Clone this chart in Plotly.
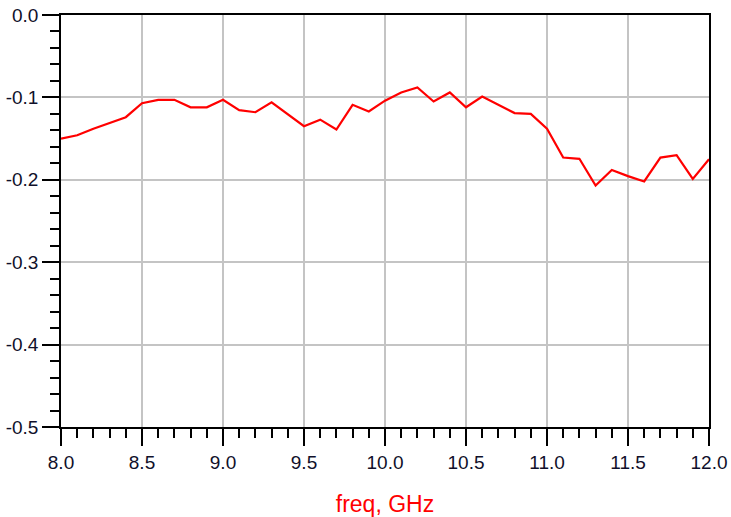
import plotly.graph_objects as go

freq = [8.0, 8.1, 8.2, 8.3, 8.4, 8.5, 8.6, 8.7, 8.8, 8.9,
        9.0, 9.1, 9.2, 9.3, 9.4, 9.5, 9.6, 9.7, 9.8, 9.9,
        10.0, 10.1, 10.2, 10.3, 10.4, 10.5, 10.6, 10.7, 10.8, 10.9,
        11.0, 11.1, 11.2, 11.3, 11.4, 11.5, 11.6, 11.7, 11.8, 11.9, 12.0]
s21 = [-0.150, -0.146, -0.138, -0.131, -0.124, -0.107, -0.103, -0.103, -0.112, -0.112,
       -0.103, -0.1155, -0.118, -0.106, -0.121, -0.135, -0.127, -0.139, -0.109, -0.117,
       -0.104, -0.094, -0.088, -0.105, -0.094, -0.112, -0.099, -0.109, -0.119, -0.120,
       -0.138, -0.173, -0.1745, -0.207, -0.188, -0.1955, -0.202, -0.173, -0.170, -0.199, -0.175]

x_ticks = [8.0, 8.5, 9.0, 9.5, 10.0, 10.5, 11.0, 11.5, 12.0]
y_ticks = [0.0, -0.1, -0.2, -0.3, -0.4, -0.5]

fig = go.Figure()
fig.add_trace(go.Scatter(x=freq, y=s21, mode="lines",
                         line=dict(color="#ff0000", width=2.2)))

font = "Liberation Sans, Arial, sans-serif"
tick_color = "#10102a"
fig.update_layout(
    width=731, height=517,
    margin=dict(l=61, r=22, t=15, b=90),
    paper_bgcolor="white", plot_bgcolor="white",
    showlegend=False,
    font=dict(family=font, size=19, color=tick_color),
    xaxis=dict(
        range=[8.0, 12.0],
        tickvals=x_ticks,
        ticktext=[f"{v:.1f}" for v in x_ticks],
        ticks="outside", ticklen=17, tickwidth=1.5, tickcolor="black",
        showline=True, linecolor="black", linewidth=1.5, mirror=True,
        showgrid=True, gridcolor="#c4c4c4", gridwidth=1.5,
        zeroline=False, automargin=False, ticklabeloverflow="allow",
        minor=dict(dtick=0.1, ticks="outside", ticklen=9, tickwidth=1.5,
                   tickcolor="black", showgrid=False),
        title=dict(text="freq, GHz", font=dict(color="#ff0000", size=23, family=font),
                   standoff=24),
        tickfont=dict(size=19, color=tick_color),
    ),
    yaxis=dict(
        range=[-0.5, 0.0],
        tickvals=y_ticks,
        ticktext=[f"{v:.1f}" for v in y_ticks],
        ticks="outside", ticklen=17, tickwidth=1.5, tickcolor="black",
        showline=True, linecolor="black", linewidth=1.5, mirror=True,
        showgrid=True, gridcolor="#c4c4c4", gridwidth=1.5,
        zeroline=False, automargin=False, ticklabeloverflow="allow",
        minor=dict(dtick=0.02, ticks="outside", ticklen=9, tickwidth=1.5,
                   tickcolor="black", showgrid=False),
        tickfont=dict(size=19, color=tick_color),
    ),
)

# remove the browser's default 8px body margin so the figure fills the window
fig.write_html("out.html",
               config={"displayModeBar": False},
               post_script="document.body.style.margin='0';document.body.style.overflow='hidden';")
